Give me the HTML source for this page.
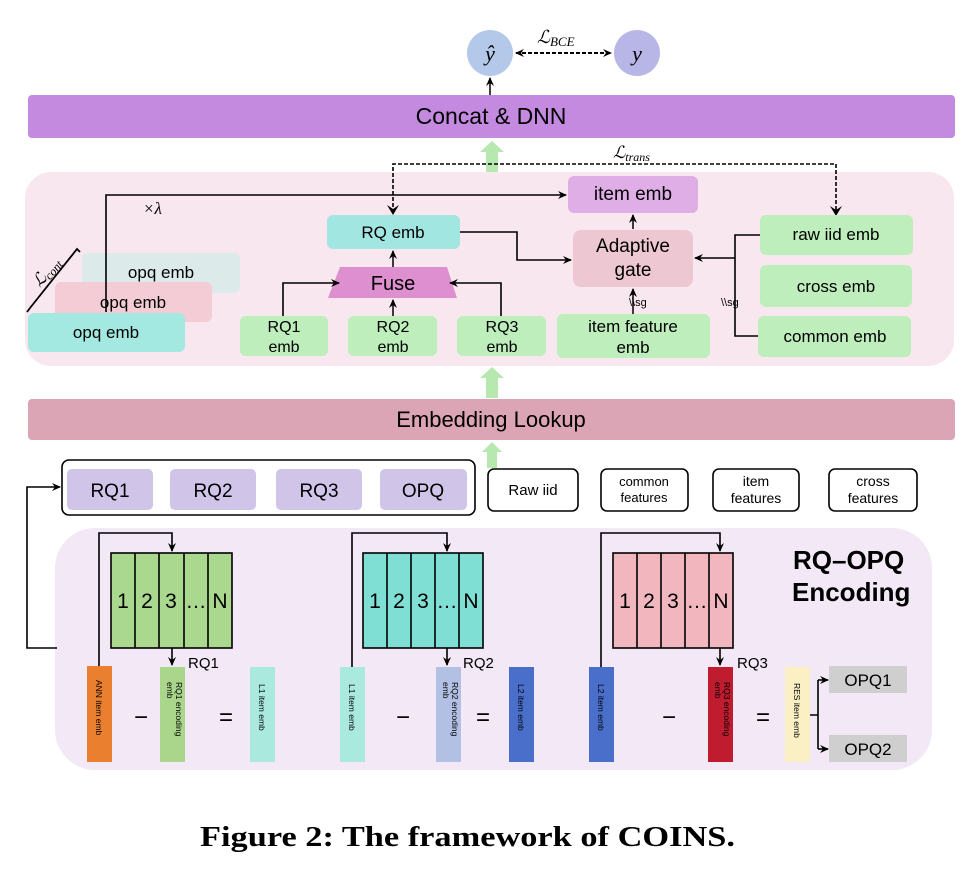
<!DOCTYPE html>
<html><head><meta charset="utf-8"><style>
html,body{margin:0;padding:0;background:#fff}
svg{display:block}
text{font-family:"Liberation Sans",sans-serif}
.m{font-family:"Liberation Serif",serif;font-style:italic}
</style></head><body>
<svg width="974" height="875" viewBox="0 0 974 875" xmlns="http://www.w3.org/2000/svg">
<defs>
<marker id="a" markerWidth="10" markerHeight="10" refX="8" refY="5" orient="auto-start-reverse" markerUnits="userSpaceOnUse"><path d="M0,1 L9,5 L0,9 L3,5 Z" fill="#000"/></marker>
</defs>
<!-- top circles -->
<circle cx="490" cy="53" r="23" fill="#b4c8ea"/>
<text x="490" y="61" font-size="22" text-anchor="middle" class="m">ŷ</text>
<circle cx="637" cy="53" r="23" fill="#b8b6e6"/>
<text x="637" y="61" font-size="22" text-anchor="middle" class="m">y</text>
<line x1="516" y1="53" x2="611" y2="53" stroke="#000" stroke-width="2" stroke-dasharray="4,2" marker-start="url(#a)" marker-end="url(#a)"/>
<text x="537" y="43" font-size="18" class="m">ℒ<tspan font-size="13" dy="3">BCE</tspan></text>
<line x1="490" y1="95" x2="490" y2="78" stroke="#000" stroke-width="1.5" marker-end="url(#a)"/>
<!-- Concat bar -->
<rect x="28" y="95" width="927" height="43" rx="4" fill="#c38ae0"/>
<text x="491" y="124" font-size="23" text-anchor="middle">Concat &amp; DNN</text>
<!-- green arrows -->
<path d="M486,172 L486,152 L480,152 L492,141 L504,152 L498,152 L498,172 Z" fill="#b7e8b0"/>
<path d="M486,398 L486,378 L480,378 L492,367 L504,378 L498,378 L498,398 Z" fill="#b7e8b0"/>
<path d="M487,468 L487,452 L482,452 L492,442 L502,452 L497,452 L497,468 Z" fill="#b7e8b0"/>
<!-- middle panel -->
<rect x="25" y="172" width="929" height="194" rx="26" fill="#f8e7ee"/>
<!-- dashed L_trans -->
<path d="M393,213 L393,164 L836,164 L836,213" fill="none" stroke="#000" stroke-width="1.6" stroke-dasharray="4,2"/>
<path d="M387,205 L393,215 L399,205 L393,209 Z" fill="#000"/>
<path d="M830,206 L836,216 L842,206 L836,210 Z" fill="#000"/>
<text x="613" y="158" font-size="17" class="m">ℒ<tspan font-size="12" dy="3">trans</tspan></text>
<!-- opq emb stack -->
<rect x="82" y="253" width="158" height="40" rx="6" fill="#dcebea"/>
<text x="161" y="278" font-size="17" text-anchor="middle">opq emb</text>
<rect x="55" y="282" width="157" height="40" rx="6" fill="#f3ccd5"/>
<text x="133" y="308" font-size="17" text-anchor="middle">opq emb</text>
<rect x="28" y="313" width="157" height="39" rx="6" fill="#a4e8e2"/>
<text x="106" y="338" font-size="17" text-anchor="middle">opq emb</text>
<!-- x lambda line -->
<path d="M106,312 L106,195 L566,195" fill="none" stroke="#000" stroke-width="1.6" marker-end="url(#a)"/>
<text x="143" y="214" font-size="17" class="m">×λ</text>
<!-- L_cont -->
<path d="M27,312 L30,308 L77,249 L80,252" fill="none" stroke="#000" stroke-width="1.8"/>
<text x="0" y="0" font-size="17" class="m" transform="translate(40,288) rotate(-50)">ℒ<tspan font-size="12" dy="3">cont</tspan></text>
<!-- item emb -->
<rect x="568" y="176" width="130" height="37" rx="6" fill="#e0aee6"/>
<text x="633" y="200" font-size="19" text-anchor="middle">item emb</text>
<!-- RQ emb -->
<rect x="327" y="215" width="133" height="34" rx="6" fill="#a2e6e1"/>
<text x="393" y="238" font-size="17" text-anchor="middle">RQ emb</text>
<!-- Fuse -->
<polygon points="340,267 447,267 457,298 328,298" fill="#dd8fcf"/>
<text x="393" y="290" font-size="20" text-anchor="middle">Fuse</text>
<line x1="393" y1="267" x2="393" y2="251" stroke="#000" stroke-width="1.5" marker-end="url(#a)"/>
<!-- RQ emb boxes -->
<rect x="240" y="316" width="88" height="40" rx="6" fill="#bdeebc"/>
<text x="284" y="332" font-size="16" text-anchor="middle">RQ1</text><text x="284" y="352" font-size="16" text-anchor="middle">emb</text>
<rect x="348" y="316" width="89" height="40" rx="6" fill="#bdeebc"/>
<text x="393" y="332" font-size="16" text-anchor="middle">RQ2</text><text x="393" y="352" font-size="16" text-anchor="middle">emb</text>
<rect x="457" y="316" width="89" height="40" rx="6" fill="#bdeebc"/>
<text x="502" y="332" font-size="16" text-anchor="middle">RQ3</text><text x="502" y="352" font-size="16" text-anchor="middle">emb</text>
<path d="M283,316 L283,283 L339,283" fill="none" stroke="#000" stroke-width="1.6" marker-end="url(#a)"/>
<line x1="393" y1="316" x2="393" y2="300" stroke="#000" stroke-width="1.5" marker-end="url(#a)"/>
<path d="M501,316 L501,283 L450,283" fill="none" stroke="#000" stroke-width="1.6" marker-end="url(#a)"/>
<!-- RQ emb to gate -->
<path d="M460,232 L517,232 L517,260 L571,260" fill="none" stroke="#000" stroke-width="1.6" marker-end="url(#a)"/>
<!-- Adaptive gate -->
<rect x="573" y="230" width="120" height="57" rx="8" fill="#edc8d3"/>
<text x="633" y="252" font-size="19" text-anchor="middle">Adaptive</text>
<text x="633" y="276" font-size="19" text-anchor="middle">gate</text>
<line x1="633" y1="229" x2="633" y2="215" stroke="#000" stroke-width="1.5" marker-end="url(#a)"/>
<!-- item feature emb -->
<rect x="557" y="314" width="153" height="44" rx="6" fill="#bdeebc"/>
<text x="633" y="332" font-size="17" text-anchor="middle">item feature</text>
<text x="633" y="353" font-size="17" text-anchor="middle">emb</text>
<line x1="633" y1="314" x2="633" y2="289" stroke="#000" stroke-width="1.5" marker-end="url(#a)"/>
<text x="629" y="306" font-size="11">\\sg</text>
<!-- right emb boxes -->
<rect x="760" y="215" width="153" height="40" rx="6" fill="#bdeebc"/>
<text x="836" y="240" font-size="17" text-anchor="middle">raw iid emb</text>
<rect x="760" y="265" width="152" height="42" rx="6" fill="#bdeebc"/>
<text x="836" y="292" font-size="17" text-anchor="middle">cross emb</text>
<rect x="758" y="316" width="153" height="41" rx="6" fill="#bdeebc"/>
<text x="835" y="342" font-size="17" text-anchor="middle">common emb</text>
<path d="M760,235 L735,235 L735,336 L758,336" fill="none" stroke="#000" stroke-width="1.6"/>
<line x1="735" y1="258" x2="695" y2="258" stroke="#000" stroke-width="1.6" marker-end="url(#a)"/>
<text x="721" y="306" font-size="11">\\sg</text>
<!-- Embedding lookup -->
<rect x="28" y="399" width="927" height="41" rx="4" fill="#dca5b5"/>
<text x="491" y="427" font-size="22" text-anchor="middle">Embedding Lookup</text>
<!-- codes row -->
<rect x="62" y="460" width="413" height="55" rx="7" fill="#fff" stroke="#000" stroke-width="1.6"/>
<rect x="67" y="469" width="86" height="41" rx="5" fill="#d1c4e9"/><text x="110" y="497" font-size="19" text-anchor="middle">RQ1</text>
<rect x="170" y="469" width="86" height="41" rx="5" fill="#d1c4e9"/><text x="213" y="497" font-size="19" text-anchor="middle">RQ2</text>
<rect x="276" y="469" width="86" height="41" rx="5" fill="#d1c4e9"/><text x="319" y="497" font-size="19" text-anchor="middle">RQ3</text>
<rect x="380" y="469" width="87" height="41" rx="5" fill="#d1c4e9"/><text x="423" y="497" font-size="19" text-anchor="middle">OPQ</text>
<rect x="488" y="469" width="90" height="42" rx="6" fill="#fff" stroke="#000" stroke-width="1.6"/><text x="533" y="495" font-size="15" text-anchor="middle">Raw iid</text>
<rect x="601" y="469" width="87" height="42" rx="6" fill="#fff" stroke="#000" stroke-width="1.6"/><text x="644" y="486" font-size="13" text-anchor="middle">common</text><text x="644" y="502" font-size="13" text-anchor="middle">features</text>
<rect x="713" y="469" width="86" height="42" rx="6" fill="#fff" stroke="#000" stroke-width="1.6"/><text x="756" y="486" font-size="14" text-anchor="middle">item</text><text x="756" y="503" font-size="14" text-anchor="middle">features</text>
<rect x="829" y="469" width="88" height="42" rx="6" fill="#fff" stroke="#000" stroke-width="1.6"/><text x="873" y="486" font-size="14" text-anchor="middle">cross</text><text x="873" y="503" font-size="14" text-anchor="middle">features</text>
<!-- bottom panel -->
<rect x="55" y="528" width="877" height="242" rx="40" fill="#f3e8f6"/>
<path d="M57,648 L27,648 L27,487 L60,487" fill="none" stroke="#000" stroke-width="1.6" marker-end="url(#a)"/>
<text x="793" y="569" font-size="26" font-weight="bold">RQ–OPQ</text>
<text x="792" y="601" font-size="26" font-weight="bold">Encoding</text>
<!-- codebooks -->
<g stroke="#000" stroke-width="1.6">
<rect x="111" y="553" width="121" height="95" fill="#a9d88e"/>
<line x1="135" y1="553" x2="135" y2="648"/><line x1="159" y1="553" x2="159" y2="648"/><line x1="184" y1="553" x2="184" y2="648"/><line x1="208" y1="553" x2="208" y2="648"/>
<rect x="363" y="553" width="120" height="95" fill="#7fdfd4"/>
<line x1="387" y1="553" x2="387" y2="648"/><line x1="411" y1="553" x2="411" y2="648"/><line x1="435" y1="553" x2="435" y2="648"/><line x1="459" y1="553" x2="459" y2="648"/>
<rect x="613" y="553" width="120" height="95" fill="#f2b6bf"/>
<line x1="637" y1="553" x2="637" y2="648"/><line x1="661" y1="553" x2="661" y2="648"/><line x1="685" y1="553" x2="685" y2="648"/><line x1="709" y1="553" x2="709" y2="648"/>
</g>
<g font-size="21" text-anchor="middle">
<text x="123" y="608">1</text><text x="147" y="608">2</text><text x="171" y="608">3</text><text x="196" y="608">…</text><text x="220" y="608">N</text>
<text x="375" y="608">1</text><text x="399" y="608">2</text><text x="423" y="608">3</text><text x="447" y="608">…</text><text x="471" y="608">N</text>
<text x="625" y="608">1</text><text x="649" y="608">2</text><text x="673" y="608">3</text><text x="697" y="608">…</text><text x="721" y="608">N</text>
</g>
<!-- loops -->
<path d="M99,666 L99,533 L172,533 L172,551" fill="none" stroke="#000" stroke-width="1.6" marker-end="url(#a)"/>
<line x1="172" y1="648" x2="172" y2="665" stroke="#000" stroke-width="1.6" marker-end="url(#a)"/>
<path d="M352,667 L352,533 L447,533 L447,551" fill="none" stroke="#000" stroke-width="1.6" marker-end="url(#a)"/>
<line x1="447" y1="648" x2="447" y2="665" stroke="#000" stroke-width="1.6" marker-end="url(#a)"/>
<path d="M601,667 L601,533 L720,533 L720,551" fill="none" stroke="#000" stroke-width="1.6" marker-end="url(#a)"/>
<line x1="720" y1="648" x2="720" y2="665" stroke="#000" stroke-width="1.6" marker-end="url(#a)"/>
<g font-size="15"><text x="188" y="668">RQ1</text><text x="463" y="668">RQ2</text><text x="737" y="668">RQ3</text></g>
<!-- bars -->
<rect x="87" y="666" width="25" height="96" fill="#e97f2f"/>
<rect x="160" y="667" width="25" height="95" fill="#a9d68b"/>
<rect x="250" y="667" width="25" height="95" fill="#a9e9de"/>
<rect x="340" y="667" width="25" height="95" fill="#a9e9de"/>
<rect x="436" y="667" width="25" height="95" fill="#b1c0e3"/>
<rect x="509" y="667" width="25" height="95" fill="#4a6fcb"/>
<rect x="589" y="667" width="25" height="95" fill="#4a6fcb"/>
<rect x="708" y="667" width="25" height="95" fill="#c01c30"/>
<rect x="785" y="667" width="25" height="95" fill="#fbf0c4"/>
<g font-size="8.5">
<text transform="translate(96,680) rotate(90)">ANN item emb</text>
<text transform="translate(176,682) rotate(90)">RQ1 encoding</text><text transform="translate(167,682) rotate(90)">emb</text>
<text transform="translate(259,684) rotate(90)">L1 item emb</text>
<text transform="translate(349,684) rotate(90)">L1 item emb</text>
<text transform="translate(452,682) rotate(90)">RQ2 encoding</text><text transform="translate(443,682) rotate(90)">emb</text>
<text transform="translate(518,684) rotate(90)">L2 item emb</text>
<text transform="translate(598,684) rotate(90)">L2 item emb</text>
<text transform="translate(724,682) rotate(90)">RQ3 encoding</text><text transform="translate(715,682) rotate(90)">emb</text>
<text transform="translate(794,683) rotate(90)">RES item emb</text>
</g>
<g font-size="24" text-anchor="middle">
<text x="141" y="725">−</text><text x="226" y="725">=</text>
<text x="403" y="725">−</text><text x="483" y="725">=</text>
<text x="669" y="725">−</text><text x="763" y="725">=</text>
</g>
<!-- OPQ branch -->
<path d="M810,715 L818,715 M818,680 L818,749" fill="none" stroke="#000" stroke-width="1.6"/>
<line x1="818" y1="680" x2="828" y2="680" stroke="#000" stroke-width="1.6" marker-end="url(#a)"/>
<line x1="818" y1="749" x2="828" y2="749" stroke="#000" stroke-width="1.6" marker-end="url(#a)"/>
<rect x="829" y="666" width="78" height="27" fill="#cfcfcf"/><text x="868" y="686" font-size="17" text-anchor="middle">OPQ1</text>
<rect x="829" y="735" width="78" height="27" fill="#cfcfcf"/><text x="868" y="755" font-size="17" text-anchor="middle">OPQ2</text>
<!-- caption -->
<text x="200" y="846" font-size="28" font-weight="bold" textLength="535" lengthAdjust="spacingAndGlyphs" style="font-family:'Liberation Serif',serif">Figure 2: The framework of COINS.</text>
</svg>
</body></html>
